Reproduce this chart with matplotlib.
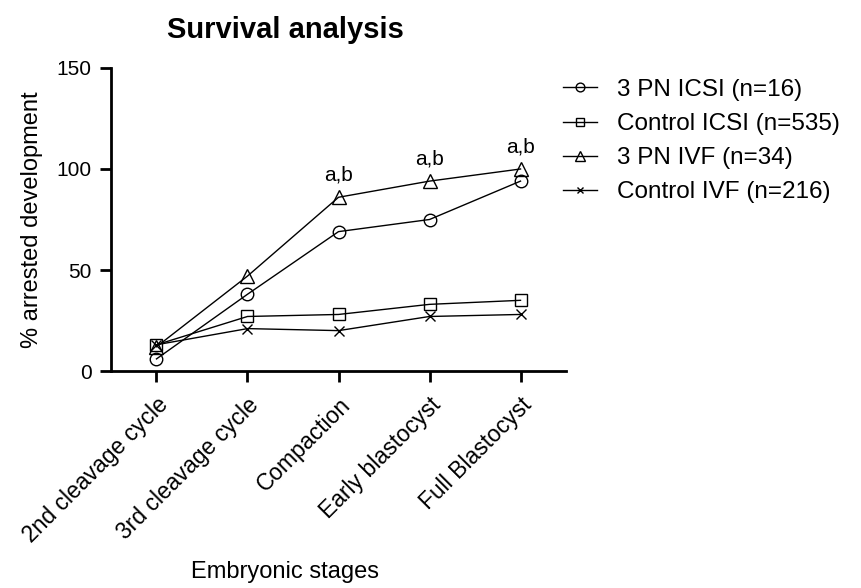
import matplotlib
matplotlib.use("Agg")
import matplotlib.pyplot as plt
import numpy as np

plt.rcParams['font.family'] = ['Liberation Sans', 'DejaVu Sans']

stages = ['2nd cleavage cycle', '3rd cleavage cycle', 'Compaction',
          'Early blastocyst', 'Full Blastocyst']
pn3_icsi = [6, 38, 69, 75, 94]
control_icsi = [13, 27, 28, 33, 35]
pn3_ivf = [12, 47, 86, 94, 100]
control_ivf = [13, 21, 20, 27, 28]
sig_labels = ['', '', 'a,b', 'a,b', 'a,b']

fig = plt.figure(figsize=(8.61, 5.88), dpi=100)
ax = fig.add_axes([0.1289, 0.369, 0.5285, 0.5154])

x = np.arange(len(stages))
style = dict(color='black', lw=1, mfc='none', mec='black', mew=1)
ax.plot(x, pn3_icsi, marker='o', ms=9, label='3 PN ICSI (n=16)', **style)
ax.plot(x, control_icsi, marker='s', ms=9, label='Control ICSI (n=535)', **style)
ax.plot(x, pn3_ivf, marker='^', ms=9.5, label='3 PN IVF (n=34)', **style)
ax.plot(x, control_ivf, marker='x', ms=7, label='Control IVF (n=216)', **style)

for xi, yi, txt in zip(x, pn3_ivf, sig_labels):
    if txt:
        ax.annotate(txt, (xi, yi), xytext=(0, 16), textcoords='offset points',
                    ha='center', va='center', fontsize=15)

ax.set_xlim(-0.5, 4.5)
ax.set_ylim(0, 150)
ax.set_yticks([0, 50, 100, 150])
ax.set_xticks(x)
ax.set_xticklabels(stages, rotation=45, ha='right', rotation_mode='anchor',
                   fontsize=16.5)
ax.tick_params(axis='both', direction='out', length=8, width=2, pad=6)
ax.tick_params(axis='x', pad=8)
ax.tick_params(axis='y', labelsize=15)
for side in ['top', 'right']:
    ax.spines[side].set_visible(False)
for side in ['left', 'bottom']:
    ax.spines[side].set_linewidth(2)

ax.set_ylabel('% arrested development', fontsize=17, labelpad=10)
fig.text(285 / 861, 1 - 572 / 588, 'Embryonic stages', ha='center',
         va='center', fontsize=17)
fig.text(285 / 861, 1 - 30 / 588, 'Survival analysis', ha='center',
         va='center', fontsize=21, fontweight='bold')

ax.legend(loc='upper left', bbox_to_anchor=(0.955, 1.02), frameon=False,
          fontsize=17.5, handlelength=1.4, labelspacing=0.5,
          handletextpad=0.85, markerscale=0.7, borderaxespad=0.3)

fig.savefig('out.png', dpi=100)
